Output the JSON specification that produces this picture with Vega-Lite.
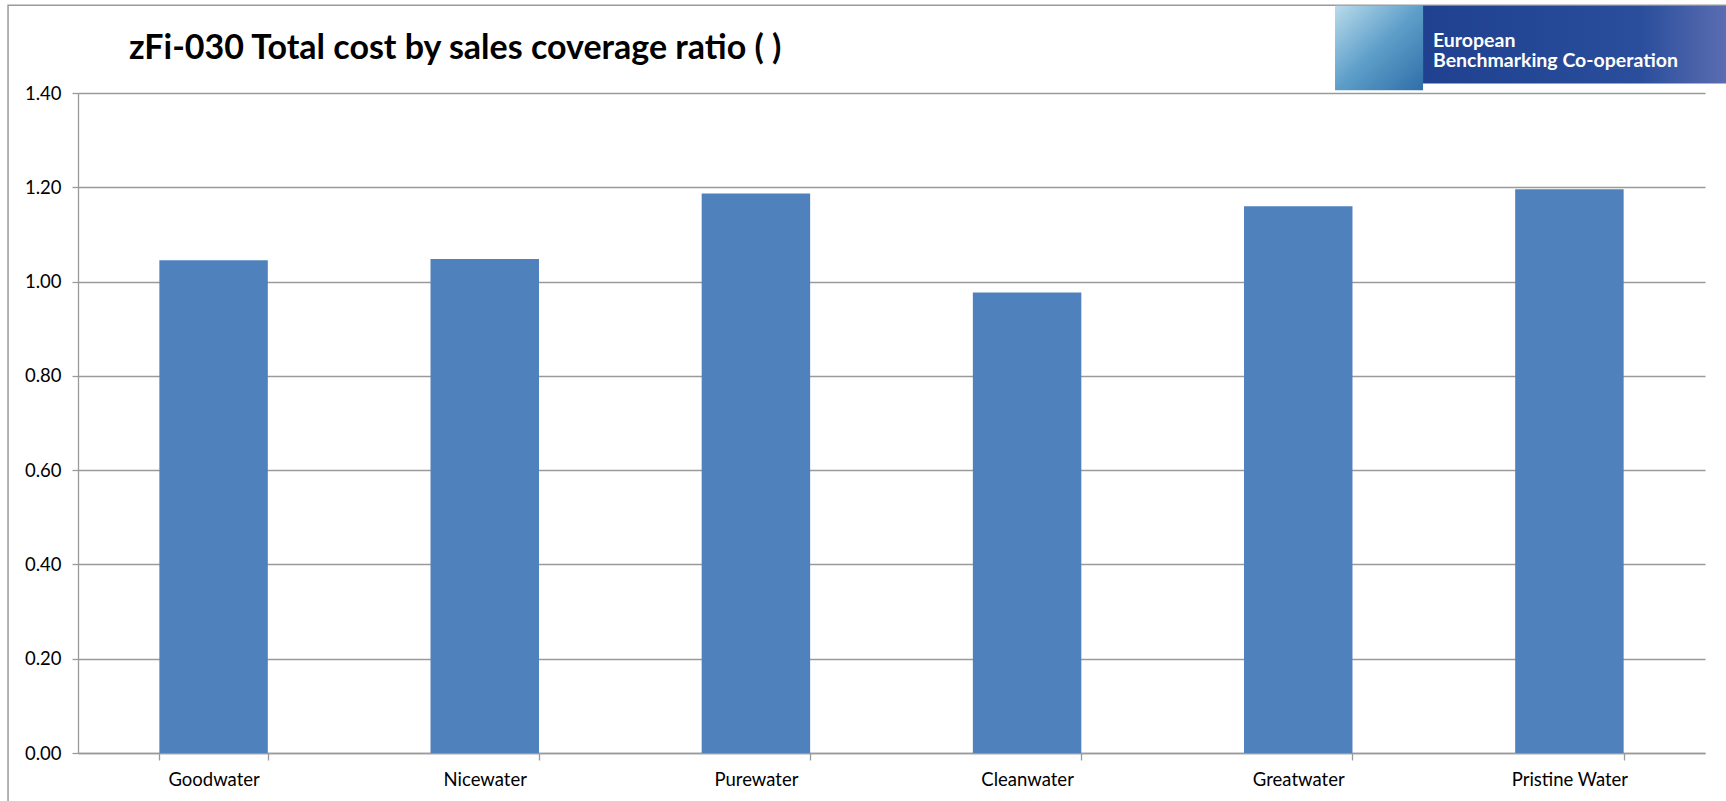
{
  "$schema": "https://vega.github.io/schema/vega-lite/v6.json",
  "width": 1627,
  "height": 660,
  "autosize": {"type": "none"},
  "padding": {"left": 78, "top": 93, "right": 21, "bottom": 48},
  "background": "white",
  "title": {
    "text": "zFi-030 Total cost by sales coverage ratio ( )",
    "anchor": "start",
    "frame": "group",
    "dx": 51,
    "offset": 0,
    "dy": 95,
    "baseline": "bottom",
    "font": "Lato",
    "fontSize": 34,
    "fontWeight": "bold",
    "color": "#000000"
  },
  "config": {"view": {"stroke": null}},
  "resolve": {"scale": {"x": "independent", "y": "independent"}},
  "layer": [
    {
      "data": {"values": [{}]},
      "mark": {"type": "rect", "filled": false, "stroke": "#9a9a9a", "strokeWidth": 1.5},
      "encoding": {
        "x": {"datum": -0.043, "type": "quantitative", "scale": {"domain": [0, 1], "nice": false, "zero": false}, "axis": null},
        "x2": {"datum": 1.1},
        "y": {"datum": 1.586, "type": "quantitative", "scale": {"domain": [0, 1.4], "nice": false, "zero": false}, "axis": null},
        "y2": {"datum": -0.3}
      }
    },
    {
      "data": {
        "values": [
          {"utility": "Goodwater", "ratio": 1.045},
          {"utility": "Nicewater", "ratio": 1.048},
          {"utility": "Purewater", "ratio": 1.187},
          {"utility": "Cleanwater", "ratio": 0.977},
          {"utility": "Greatwater", "ratio": 1.16},
          {"utility": "Pristine Water", "ratio": 1.196}
        ]
      },
      "mark": {"type": "bar", "color": "#4F81BD"},
      "encoding": {
        "x": {
          "field": "utility",
          "type": "nominal",
          "sort": null,
          "scale": {"paddingInner": 0.6, "paddingOuter": 0.3},
          "axis": {
            "title": null,
            "labelAngle": 0,
            "labelFont": "Lato",
            "labelFontSize": 18.5,
            "labelColor": "#000000",
            "domainColor": "#9a9a9a",
            "domainWidth": 1.3,
            "tickColor": "#9a9a9a",
            "tickWidth": 1.3,
            "tickBand": "extent",
            "tickSize": 7,
            "labelPadding": 10,
            "grid": false
          }
        },
        "y": {
          "field": "ratio",
          "type": "quantitative",
          "scale": {"domain": [0, 1.4], "nice": false},
          "axis": {
            "title": null,
            "values": [0, 0.2, 0.4, 0.6, 0.8, 1.0, 1.2, 1.4],
            "format": ".2f",
            "labelFont": "Lato",
            "labelFontSize": 18.5,
            "labelColor": "#000000",
            "labelPadding": 11,
            "tickSize": 6,
            "tickColor": "#9a9a9a",
            "tickWidth": 1.3,
            "domainColor": "#9a9a9a",
            "domainWidth": 1.3,
            "grid": true,
            "gridColor": "#9a9a9a",
            "gridWidth": 1.3
          }
        }
      }
    },
    {
      "data": {"values": [{}]},
      "layer": [
        {
          "mark": {"type": "rect", "color": {"gradient": "linear", "x1": 0, "y1": 0, "x2": 1, "y2": 1, "stops": [{"offset": 0, "color": "#b9dbeb"}, {"offset": 0.5, "color": "#5d9ec9"}, {"offset": 1, "color": "#2f6ea8"}]}},
          "encoding": {
            "x": {"datum": 0.7726, "type": "quantitative", "scale": {"domain": [0, 1], "nice": false, "zero": false}, "axis": null},
            "x2": {"datum": 0.8267},
            "y": {"datum": 1.406, "type": "quantitative", "scale": {"domain": [0, 1.4], "nice": false, "zero": false}, "axis": null},
            "y2": {"datum": 1.585}
          }
        },
        {
          "mark": {"type": "rect", "color": {"gradient": "linear", "x1": 0, "y1": 0, "x2": 1, "y2": 0, "stops": [{"offset": 0, "color": "#1f418f"}, {"offset": 0.6, "color": "#2a4e9c"}, {"offset": 1, "color": "#7d82c0"}]}},
          "encoding": {
            "x": {"datum": 0.8267, "type": "quantitative"},
            "x2": {"datum": 1.05},
            "y": {"datum": 1.42, "type": "quantitative"},
            "y2": {"datum": 1.585}
          }
        },
        {
          "mark": {"type": "text", "align": "left", "baseline": "alphabetic", "font": "Lato", "fontSize": 19.5, "fontWeight": "bold", "color": "#ffffff"},
          "encoding": {
            "x": {"datum": 0.8328, "type": "quantitative"},
            "y": {"datum": 1.4975, "type": "quantitative"},
            "text": {"value": "European"}
          }
        },
        {
          "mark": {"type": "text", "align": "left", "baseline": "alphabetic", "font": "Lato", "fontSize": 19.5, "fontWeight": "bold", "color": "#ffffff"},
          "encoding": {
            "x": {"datum": 0.8328, "type": "quantitative"},
            "y": {"datum": 1.4546, "type": "quantitative"},
            "text": {"value": "Benchmarking Co-operation"}
          }
        }
      ]
    }
  ]
}
